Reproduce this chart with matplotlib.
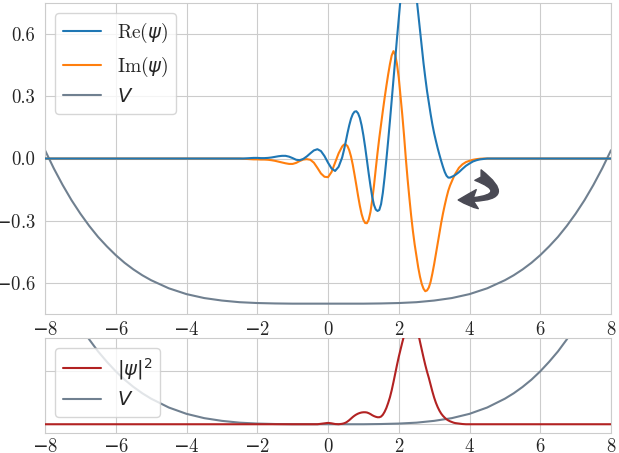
import numpy as np
import matplotlib
matplotlib.use("Agg")
import matplotlib.pyplot as plt
from matplotlib.ticker import FuncFormatter
import seaborn as sns

# grille des x ou les courbes ont ete lues ; psi = 0 aux bords (-8 et 8)
x_psi = np.concatenate([
    [-8.0],
    np.round(np.arange(-2.5, 0.35, 0.1), 2),
    np.round(np.arange(0.4, 3.62, 0.05), 2),
    np.round(np.arange(3.7, 4.55, 0.1), 2),
    [8.0],
])

re_psi = [0.000,
          # -2.5 .. 0.3
          0.000, 0.000, 0.001, 0.002, 0.003, 0.003, 0.002, 0.002, 0.003, 0.005,
          0.008, 0.011, 0.013, 0.013, 0.009, 0.002, -0.006, -0.008, -0.002, 0.010,
          0.025, 0.039, 0.045, 0.036, 0.012, -0.020, -0.048, -0.060, -0.040,
          # 0.40 .. 3.60
          0.005, 0.040, 0.080, 0.122, 0.160, 0.192, 0.214, 0.226, 0.228, 0.218,
          0.196, 0.160,
          0.112, 0.055, -0.008, -0.072, -0.132, -0.185, -0.224, -0.246, -0.253, -0.248,
          -0.220, -0.165, -0.090, -0.005, 0.085, 0.180, 0.280, 0.380, 0.480, 0.580,
          0.675, 0.770, 0.850, 0.915, 0.960, 0.985, 0.990, 0.970, 0.930, 0.860,
          0.780, 0.700, 0.620, 0.540, 0.460, 0.390, 0.325, 0.270, 0.215, 0.165,
          0.122, 0.085, 0.050, 0.018, -0.012, -0.040, -0.065, -0.083, -0.092, -0.092,
          -0.088, -0.084, -0.079,
          # 3.7 .. 4.5
          -0.066, -0.050, -0.035, -0.024, -0.014, -0.008, -0.004, -0.002, 0.000,
          0.000]

im_psi = [0.000,
          0.000, -0.001, -0.002, -0.003, -0.004, -0.004, -0.005, -0.005, -0.006, -0.008,
          -0.011, -0.015, -0.019, -0.023, -0.026, -0.026, -0.021, -0.012, -0.005, -0.003,
          -0.006, -0.020, -0.045, -0.072, -0.088, -0.090, -0.065, -0.020, 0.025,
          0.058, 0.067, 0.068, 0.060, 0.040, 0.010, -0.030, -0.078, -0.128, -0.180,
          -0.228, -0.268,
          -0.296, -0.311, -0.312, -0.295, -0.258, -0.200, -0.130, -0.050, 0.028, 0.100,
          0.165, 0.230, 0.292, 0.350, 0.405, 0.455, 0.497, 0.518, 0.500, 0.455,
          0.390, 0.300, 0.210, 0.110, 0.000, -0.100, -0.190, -0.275, -0.350, -0.415,
          -0.470, -0.525, -0.570, -0.605, -0.628, -0.640, -0.636, -0.622, -0.595, -0.555,
          -0.510, -0.460, -0.410, -0.360, -0.310, -0.265, -0.225, -0.188, -0.155, -0.130,
          -0.110, -0.090, -0.073,
          -0.045, -0.028, -0.017, -0.011, -0.006, -0.003, -0.001, 0.000, 0.000,
          0.000]

# |psi|^2, lu dans les unites du panneau du bas
dens_psi = [0.000] + [0.000] * 23 + [0.002, 0.004, 0.006, 0.004, 0.001, 0.000] + [
    0.002, 0.004, 0.007, 0.012, 0.018, 0.025, 0.032, 0.038, 0.043, 0.047,
    0.050, 0.052,
    0.053, 0.053, 0.052, 0.049, 0.045, 0.040, 0.036, 0.033, 0.031, 0.031,
    0.034, 0.042, 0.055, 0.072, 0.094, 0.119, 0.150, 0.186, 0.224, 0.262,
    0.298, 0.330, 0.362, 0.392, 0.420, 0.445, 0.460, 0.468, 0.466, 0.455,
    0.432, 0.402, 0.365, 0.330, 0.295, 0.262, 0.232, 0.205, 0.175, 0.145,
    0.118, 0.095, 0.076, 0.060, 0.047, 0.037, 0.029, 0.022, 0.017, 0.013,
    0.010, 0.007, 0.005] + [0.003, 0.001, 0.0, 0.0, 0.0, 0.0, 0.0, 0.0, 0.0] + [0.000]

x_pot = [-8.0, -7.75, -7.5, -7.25, -7.0, -6.75, -6.5, -6.25, -6.0, -5.75, -5.5, -5.25,
         -5.0, -4.5, -4.0, -3.5, -3.0, -2.5, -2.0, -1.5, -1.0, -0.5, 0.0,
         0.5, 1.0, 1.5, 2.0, 2.5, 3.0, 3.5, 4.0, 4.5, 5.0,
         5.25, 5.5, 5.75, 6.0, 6.25, 6.5, 6.75, 7.0, 7.25, 7.5, 7.75, 8.0]
pot = [0.040, -0.048, -0.128, -0.201, -0.266, -0.325, -0.378, -0.424, -0.466, -0.503,
       -0.535, -0.563, -0.587, -0.626, -0.654, -0.673, -0.685, -0.693, -0.697, -0.699,
       -0.700, -0.700, -0.700,
       -0.700, -0.700, -0.699, -0.697, -0.693, -0.685, -0.673, -0.654, -0.626, -0.587,
       -0.563, -0.535, -0.503, -0.466, -0.424, -0.378, -0.325, -0.266, -0.201, -0.128,
       -0.048, 0.040]

sns.set_style("whitegrid")
plt.rcParams["font.family"] = ["cmr10", "DejaVu Sans"]
plt.rcParams["axes.formatter.use_mathtext"] = False
plt.rcParams["font.size"] = 14
plt.rcParams["xtick.labelsize"] = 13.5
plt.rcParams["ytick.labelsize"] = 13.5
plt.rcParams["legend.fontsize"] = 14
plt.rcParams["xtick.major.pad"] = 1.5


def fmt_x(v, pos):
    s = f"{abs(v):.0f}"
    return r"$-$" + s if v < -1e-9 else s


def fmt_y(v, pos):
    s = f"{abs(v):.1f}"
    return r"$-$" + s if v < -1e-9 else s


fig = plt.figure(figsize=(6.19, 4.53), dpi=100)
ax1 = fig.add_axes([0.0727, 0.3068, 0.9144, 0.6865])
ax2 = fig.add_axes([0.0727, 0.0435, 0.9144, 0.2097])

ax1.plot(x_psi, re_psi, color="#1f77b4", lw=1.5, label=r"Re($\psi$)", zorder=4)
ax1.plot(x_psi, im_psi, color="#ff7f0e", lw=1.5, label=r"Im($\psi$)", zorder=3)
ax1.plot(x_pot, pot, color="slategray", lw=1.5, label=r"$V$", zorder=2)
ax1.set_xlim(-8, 8)
ax1.set_ylim(-0.75, 0.75)
ax1.set_yticks([-0.6, -0.3, 0.0, 0.3, 0.6])
ax1.xaxis.set_major_formatter(FuncFormatter(fmt_x))
ax1.yaxis.set_major_formatter(FuncFormatter(fmt_y))
ax1.legend(loc="upper left")

# fleche courbe (sens de propagation)
ax1.annotate("", xy=(3.68, -0.20), xytext=(4.24, -0.08),
             arrowprops=dict(arrowstyle="fancy,head_length=0.55,head_width=0.55,tail_width=0.35",
                             connectionstyle="angle3,angleA=-31,angleB=0",
                             color="#4a4a54", shrinkA=0, shrinkB=0,
                             mutation_scale=25),
             zorder=6)

pot_bas = np.array(pot) - min(pot)
ax2.plot(x_psi, dens_psi, color="firebrick", lw=1.5, label=r"$|\psi|^2$", zorder=3)
ax2.plot(x_pot, pot_bas, color="slategray", lw=1.5, label=r"$V$", zorder=2)
ax2.set_xlim(-8, 8)
ax2.set_ylim(-0.04, 0.38)
ax2.set_yticks([0.0, 0.235])
ax2.set_yticklabels([])
ax2.xaxis.set_major_formatter(FuncFormatter(fmt_x))
ax2.tick_params(axis="x", pad=0)
ax2.legend(loc="upper left")

plt.savefig("out.png", dpi=100)
